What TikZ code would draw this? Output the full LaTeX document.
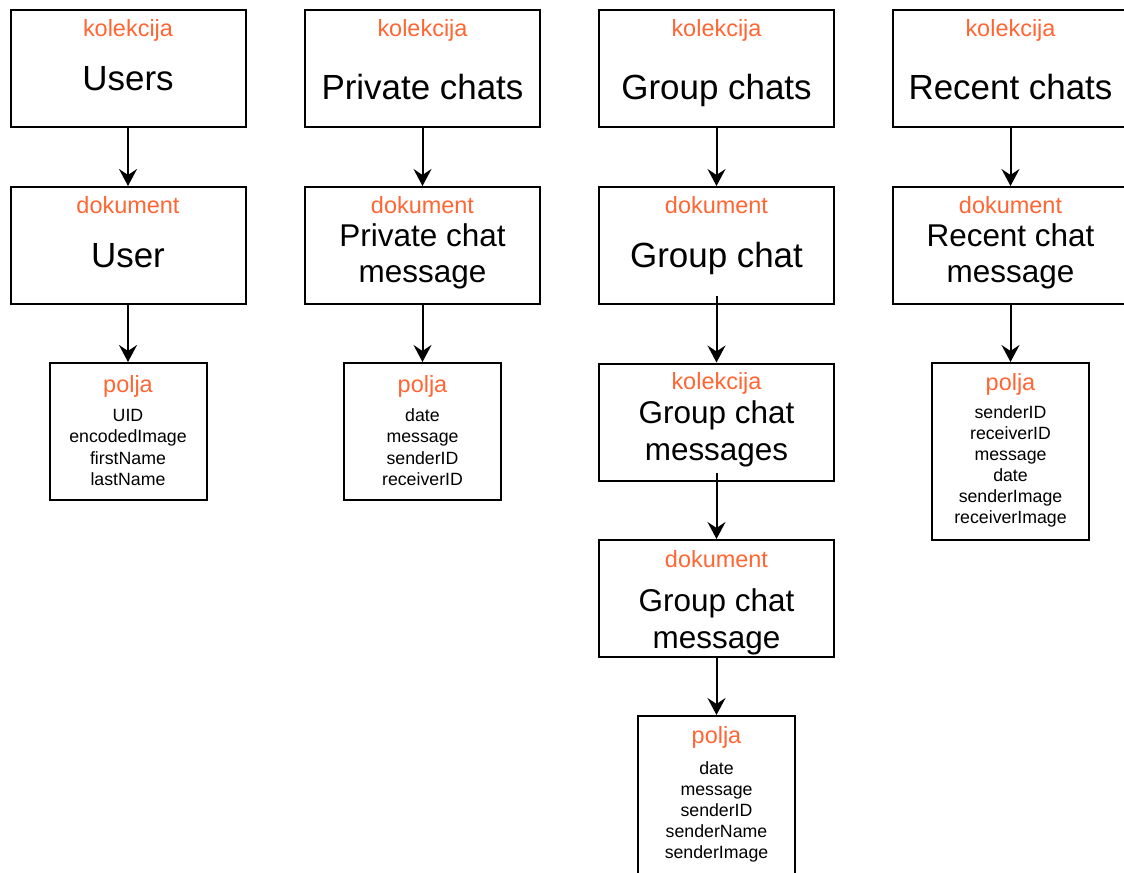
\documentclass[tikz,border=0pt]{standalone}
\usepackage{fontspec}
\setmainfont{Liberation Sans}
\usetikzlibrary{arrows.meta}
\definecolor{lbl}{HTML}{FF6633}
\tikzset{
  box/.style={draw=black, line width=1.5pt, fill=white, inner sep=0pt},
  bigbox/.style={box, minimum width=176.25pt, minimum height=87.75pt},
  fldbox/.style={box, minimum width=117.75pt},
  txt/.style={inner sep=0pt, anchor=base},
  big/.style={txt, font=\fontsize{26.2}{30}\selectfont},
  bigtwo/.style={txt, font=\fontsize{23.6}{27}\selectfont},
  kind/.style={txt, text=lbl, font=\fontsize{17.6}{20}\selectfont},
  fld/.style={txt, font=\fontsize{13.3}{16}\selectfont},
  conn/.style={line width=1.5pt, -{Stealth[length=12.75pt, width=13.5pt, inset=4.5pt]}}
}
\begin{document}
\begin{tikzpicture}[x=0.75pt, y=-0.75pt]
\useasboundingbox (0,0) rectangle (1124,872);
% column 1
\node[bigbox] (users) at (128,68.5) {};
\node[kind] (users-k) at (128,36) {kolekcija};
\node[big] (users-t) at (128,90) {Users};
\node[bigbox] (user) at (128,245.5) {};
\node[kind] (user-k) at (128,213) {dokument};
\node[big] (user-t) at (128,267) {User};
\node[fldbox, minimum height=102.75pt] (userf) at (128,431.5) {};
\node[kind] (userf-k) at (128,392) {polja};
\foreach \t [count=\i] in {UID,encodedImage,firstName,lastName}
  \node[fld] (userf\i) at (128,{421+21.6*(\i-1)}) {\t};
% column 2
\node[bigbox] (pcs) at (422.5,68.5) {};
\node[kind] (pcs-k) at (422.5,36) {kolekcija};
\node[big] (pcs-t) at (422.5,99) {Private chats};
\node[bigbox] (pc) at (422.5,245.5) {};
\node[kind] (pc-k) at (422.5,213) {dokument};
\node[bigtwo] (pc-t1) at (422.5,246) {Private chat};
\node[bigtwo] (pc-t2) at (422.5,282) {message};
\node[fldbox, minimum height=102.75pt] (pcf) at (422.5,431.5) {};
\node[kind] (pcf-k) at (422.5,392) {polja};
\foreach \t [count=\i] in {date,message,senderID,receiverID}
  \node[fld] (pcf\i) at (422.5,{421+21.6*(\i-1)}) {\t};
% column 3
\node[bigbox] (gcs) at (716.5,68.5) {};
\node[kind] (gcs-k) at (716.5,36) {kolekcija};
\node[big] (gcs-t) at (716.5,99) {Group chats};
\node[bigbox] (gc) at (716.5,245.5) {};
\node[kind] (gc-k) at (716.5,213) {dokument};
\node[big] (gc-t) at (716.5,267) {Group chat};
\node[bigbox] (gcms) at (716.5,422) {};
\node[kind] (gcms-k) at (716.5,389) {kolekcija};
\node[bigtwo] (gcms-t1) at (716.5,423) {Group chat};
\node[bigtwo] (gcms-t2) at (716.5,460) {messages};
\node[bigbox] (gcm) at (716.5,598.5) {};
\node[kind] (gcm-k) at (716.5,567) {dokument};
\node[bigtwo] (gcm-t1) at (716.5,611) {Group chat};
\node[bigtwo] (gcm-t2) at (716.5,648) {message};
\node[fldbox, minimum height=123pt] (gcmf) at (716.5,798) {};
\node[kind] (gcmf-k) at (716.5,743) {polja};
\foreach \t [count=\i] in {date,message,senderID,senderName,senderImage}
  \node[fld] (gcmf\i) at (716.5,{774+21*(\i-1)}) {\t};
% column 4
\node[bigbox] (rcs) at (1010.5,68.5) {};
\node[kind] (rcs-k) at (1010.5,36) {kolekcija};
\node[big] (rcs-t) at (1010.5,99) {Recent chats};
\node[bigbox] (rc) at (1010.5,245.5) {};
\node[kind] (rc-k) at (1010.5,213) {dokument};
\node[bigtwo] (rc-t1) at (1010.5,246) {Recent chat};
\node[bigtwo] (rc-t2) at (1010.5,282) {message};
\node[fldbox, minimum height=132.75pt] (rcf) at (1010.5,451.5) {};
\node[kind] (rcf-k) at (1010.5,390) {polja};
\foreach \t [count=\i] in {senderID,receiverID,message,date,senderImage,receiverImage}
  \node[fld] (rcf\i) at (1010.5,{418+21*(\i-1)}) {\t};
% connectors
\draw[conn] (users.south) -- (user.north);
\draw[conn] (user.south) -- (userf.north);
\draw[conn] (pcs.south) -- (pc.north);
\draw[conn] (pc.south) -- (pcf.north);
\draw[conn] (gcs.south) -- (gc.north);
\draw[conn] ([yshift=6.75pt]gc.south) -- (gcms.north);
\draw[conn] ([yshift=6.75pt]gcms.south) -- (gcm.north);
\draw[conn] (gcm.south) -- (gcmf.north);
\draw[conn] (rcs.south) -- (rc.north);
\draw[conn] (rc.south) -- (rcf.north);
\end{tikzpicture}
\end{document}
